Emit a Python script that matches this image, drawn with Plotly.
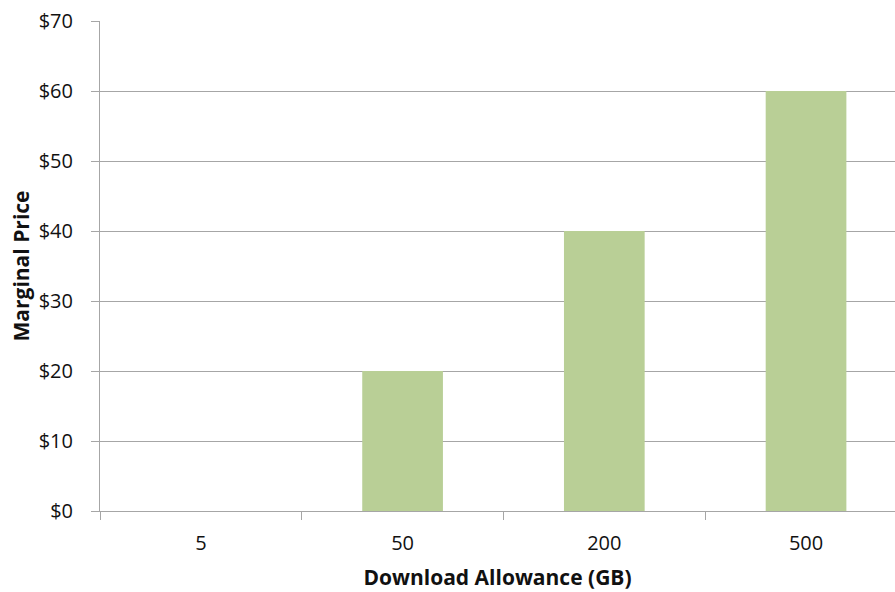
import plotly.graph_objects as go

# Marginal price per download allowance tier
allowances = ["5", "50", "200", "500"]
marginal_price = [0, 20, 40, 60]
price_ticks = [0, 10, 20, 30, 40, 50, 60, 70]
price_labels = ["$" + str(v) for v in price_ticks]

BAR = "#B9CF96"
GRID = "#A6A6A6"
FONT = "Open Sans"
TEXT = "#111111"

fig = go.Figure(
    go.Bar(
        x=allowances,
        y=marginal_price,
        width=0.4,
        marker=dict(color=BAR, line=dict(width=0)),
        hoverinfo="x+y",
    )
)

fig.update_layout(
    width=895,
    height=592,
    margin=dict(l=100, r=0, t=21, b=81),
    plot_bgcolor="white",
    paper_bgcolor="white",
    showlegend=False,
    font=dict(family=FONT, size=21, color=TEXT),
)

fig.update_xaxes(
    type="category",
    range=[-0.5, 3.441],
    tickson="boundaries",
    ticks="outside",
    ticklen=8,
    tickcolor=GRID,
    tickwidth=1,
    showline=True,
    linecolor=GRID,
    linewidth=1,
    showgrid=False,
    tickfont=dict(family=FONT, size=20, color=TEXT),
    ticklabelstandoff=14,
    title=dict(
        text="<b>Download Allowance (GB)</b>",
        font=dict(family=FONT, size=21, color=TEXT),
        standoff=15,
    ),
)

fig.update_yaxes(
    range=[0, 70],
    tickvals=price_ticks,
    ticktext=price_labels,
    ticks="outside",
    ticklen=8,
    tickcolor=GRID,
    tickwidth=1,
    showline=True,
    linecolor=GRID,
    linewidth=1,
    showgrid=True,
    gridcolor=GRID,
    gridwidth=1,
    zeroline=False,
    tickfont=dict(family=FONT, size=20, color=TEXT),
    ticklabelstandoff=14,
    title=dict(
        text="<b>Marginal Price</b>",
        font=dict(family=FONT, size=21, color=TEXT),
        standoff=3,
    ),
)

fig.write_html("out.html")
